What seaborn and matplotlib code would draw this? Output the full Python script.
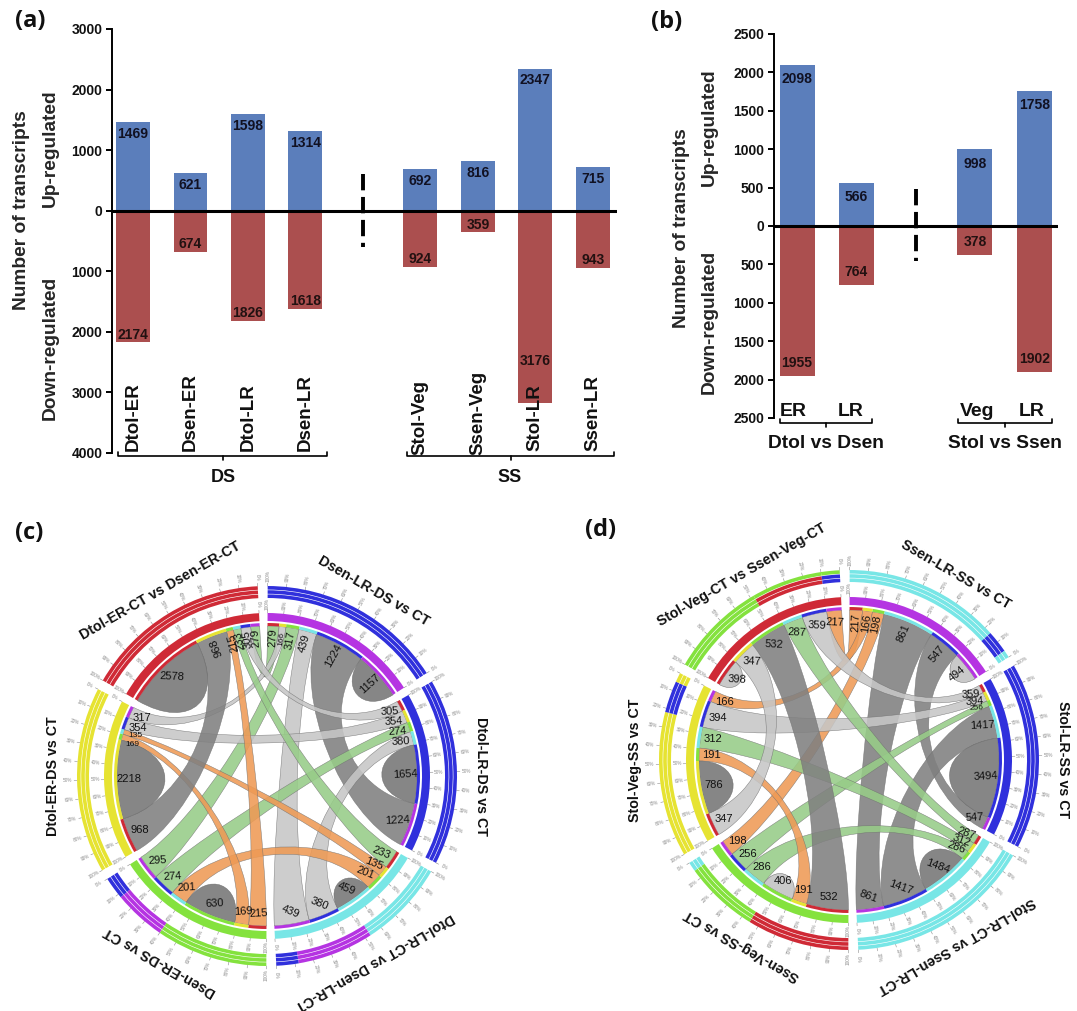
import numpy as np
import pandas as pd
import seaborn as sns
import matplotlib
matplotlib.use("Agg")
import matplotlib.pyplot as plt
from matplotlib.patches import PathPatch, Wedge
from matplotlib.path import Path

# bars, panel (a)
A_GROUPS = ["Dtol-ER", "Dsen-ER", "Dtol-LR", "Dsen-LR", "", "Stol-Veg", "Ssen-Veg", "Stol-LR", "Ssen-LR"]
A_UP = [1469, 621, 1598, 1314, None, 692, 816, 2347, 715]
A_DOWN = [2174, 674, 1826, 1618, None, 924, 359, 3176, 943]
A_TICKS = [3000, 2000, 1000, 0, -1000, -2000, -3000, -4000]

# bars, panel (b)
B_GROUPS = ["ER", "LR ", "", "Veg", "LR"]
B_UP = [2098, 566, None, 998, 1758]
B_DOWN = [1955, 764, None, 378, 1902]
B_TICKS = [2500, 2000, 1500, 1000, 500, 0, -500, -1000, -1500, -2000, -2500]

# chord diagrams: sectors run clockwise from the top gap,
# segment k of every sector links to sector 5-k
C_NAMES = ["Dsen-LR-DS vs CT", "Dtol-LR-DS vs CT", "Dtol-LR-CT vs Dsen-LR-CT",
           "Dsen-ER-DS vs CT", "Dtol-ER-DS vs CT", "Dtol-ER-CT vs Dsen-ER-CT"]
C_VALUES = [[279, 166, 317, 439, 1224, 1157],
            [305, 354, 274, 380, 1654, 1224],
            [233, 135, 201, 459, 380, 439],
            [215, 169, 630, 201, 274, 295],
            [968, 2218, 169, 135, 354, 317],
            [2578, 968, 215, 233, 305, 279]]
C_SECTOR_COLORS = ["magenta", "blue", "cyan", "green", "yellow", "red"]
C_TRACKS = [[("blue", 1)], [("blue", 1)],
            [("cyan", .47), ("magenta", .88), ("blue", 1)],
            [("green", .60), ("magenta", .88), ("blue", 1)],
            [("yellow", 1)], [("red", 1)]]
C_BINS = [220, 300, 450]

D_NAMES = ["Ssen-LR-SS vs CT", "Stol-LR-SS vs CT", "Stol-LR-CT vs Ssen-LR-CT",
           "Ssen-Veg-SS vs CT", "Stol-Veg-SS vs CT", "Stol-Veg-CT vs Ssen-Veg-CT"]
D_VALUES = [[217, 166, 198, 861, 547, 494],
            [359, 394, 256, 1417, 3494, 547],
            [287, 312, 286, 1484, 1417, 861],
            [532, 191, 406, 286, 256, 198],
            [347, 786, 191, 312, 394, 166],
            [398, 347, 532, 287, 359, 217]]
D_SECTOR_COLORS = ["magenta", "blue", "cyan", "green", "yellow", "red"]
D_TRACKS = [[("cyan", .84), ("blue", .96), ("cyan", 1)], [("blue", 1)], [("cyan", 1)],
            [("red", .55), ("green", .95), ("cyan", 1)],
            [("yellow", .78), ("blue", .95), ("yellow", 1)],
            [("green", .52), ("red", .90), ("blue", 1)]]
D_BINS = [220, 320, 500]

W, H = 1077, 1011
BLUE_BAR = "#5B7EBB"
RED_BAR = "#AB4F4F"
PALETTE = {"red": "#CF2A36", "yellow": "#E6E332", "green": "#84E23E",
           "cyan": "#78E6E6", "blue": "#3030DC", "magenta": "#B534E2"}
RIBBONS = ["#EE9A55", "#97CC88", "#C6C6C6", "#808080"]

GAP = 3.0
TILT = 1.3
R_CHORD, R_BAND, R_MID_IN, R_MID_OUT = 150, 153, 155, 163
R_STRIPS = [(178, 181.6), (182.2, 185.8), (186.4, 190)]

sns.set_theme(style="white")
plt.rcParams["font.family"] = ["Liberation Sans", "DejaVu Sans"]


def px_axes(fig, left, top, right, bottom):
    return fig.add_axes([left / W, 1 - bottom / H, (right - left) / W, (bottom - top) / H])


def bar_panel(ax, groups, up, down, ticks, xlim, up_inset, down_inset, fs, moved=None):
    moved = moved or {}
    df = pd.DataFrame({
        "group": groups * 2,
        "count": [v for v in up] + [None if v is None else -v for v in down],
        "direction": ["up"] * len(groups) + ["down"] * len(groups),
    })
    sns.barplot(data=df, x="group", y="count", hue="direction", order=groups, dodge=False,
                palette={"up": BLUE_BAR, "down": RED_BAR}, width=0.59, saturation=1,
                linewidth=0, legend=False, ax=ax)
    ax.set_xlim(*xlim)
    ax.set_ylim(ticks[-1], ticks[0])
    ax.set_xticks([])
    ax.set_xlabel("")
    ax.set_ylabel("")
    ax.set_yticks(ticks)
    ax.set_yticklabels([str(abs(t)) for t in ticks], fontsize=fs, fontweight="bold")
    ax.tick_params(axis="y", left=True, length=4, width=1.4, pad=3, color="black", labelcolor="#111111")
    sns.despine(ax=ax, bottom=True)
    ax.spines["left"].set_linewidth(1.4)
    ax.spines["left"].set_color("black")
    ax.patch.set_alpha(0)
    ax.axhline(0, color="black", lw=2.2, zorder=5)
    for i, (u, d) in enumerate(zip(up, down)):
        if u is None:
            continue
        ax.text(i, u - up_inset, str(u), ha="center", va="center", fontsize=fs,
                fontweight="bold", color="#111122", zorder=6)
        ax.text(i, -moved.get(d, d - down_inset), str(d), ha="center", va="center", fontsize=fs,
                fontweight="bold", color="#221111", zorder=6)


def bracket(ov, x0, x1, y):
    ov.plot([x0, x0, x1, x1], [y - 4, y, y, y - 4], color="black", lw=1.2)
    ov.plot([(x0 + x1) / 2] * 2, [y, y + 4], color="black", lw=1.2)


def pol(r, deg):
    t = np.deg2rad(deg)
    return np.array([r * np.cos(t), r * np.sin(t)])


def arc(r, a0, a1):
    return [pol(r, a) for a in np.linspace(a0, a1, 24)]


def ribbon(ax, seg_a, seg_b, color, k=0.55):
    r = R_CHORD
    verts, codes = [], []
    pts = arc(r, *seg_a)
    verts += pts
    codes += [Path.MOVETO] + [Path.LINETO] * (len(pts) - 1)
    verts += [pol(r * k, seg_a[1]), pol(r * k, seg_b[0]), pol(r, seg_b[0])]
    codes += [Path.CURVE4] * 3
    pts = arc(r, *seg_b)[1:]
    verts += pts
    codes += [Path.LINETO] * len(pts)
    verts += [pol(r * k, seg_b[1]), pol(r * k, seg_a[0]), pol(r, seg_a[0])]
    codes += [Path.CURVE4] * 3
    ax.add_patch(PathPatch(Path(verts, codes), fc=color, ec="#707070", lw=0.35, alpha=0.88, zorder=2))


def self_ribbon(ax, seg, color):
    r = R_CHORD
    chord = np.linalg.norm(pol(r, seg[0]) - pol(r, seg[1]))
    depth = 0.75 * chord
    verts = arc(r, *seg)
    codes = [Path.MOVETO] + [Path.LINETO] * (len(verts) - 1)
    verts += [pol(r - depth, seg[1]), pol(r - depth, seg[0]), pol(r, seg[0])]
    codes += [Path.CURVE4] * 3
    ax.add_patch(PathPatch(Path(verts, codes), fc=color, ec="#6A6A6A", lw=0.35, alpha=0.95, zorder=2))


def wedge(ax, r0, r1, a0, a1, color, z=3):
    # a0 > a1, clockwise span
    ax.add_patch(Wedge((0, 0), r1, a1, a0, width=r1 - r0, fc=color, ec="none", lw=0, zorder=z))


def arc_len(seg):
    return np.deg2rad(seg[0] - seg[1]) * R_CHORD


def chord_panel(ax, names, values, sector_colors, tracks, bins, radial, tilted, outer_only=None):
    outer_only = outer_only or {}
    ax.set_xlim(-228, 228)
    ax.set_ylim(-228, 228)
    ax.axis("off")
    span = 60 - GAP
    starts = [90 + TILT - GAP / 2 - 60 * i for i in range(6)]
    segs = []
    for i, vals in enumerate(values):
        edges = np.cumsum([0] + vals) / sum(vals)
        segs.append([(starts[i] - edges[k] * span, starts[i] - edges[k + 1] * span) for k in range(6)])

    for i in range(6):
        for k in range(6):
            j = 5 - k
            if j < i:
                continue
            if j == i:
                self_ribbon(ax, segs[i][k], RIBBONS[-1] if values[i][k] > bins[2] else RIBBONS[2])
            else:
                # the link colour goes by the value at the later sector
                val = values[j][5 - i]
                ribbon(ax, segs[i][k], segs[j][5 - i], RIBBONS[int(np.searchsorted(bins, val))])

    for i in range(6):
        a0, a1 = starts[i], starts[i] - span
        wedge(ax, R_MID_IN, R_MID_OUT, a0, a1, PALETTE[sector_colors[i]])
        for k in range(6):
            partner = sector_colors[5 - k]
            wedge(ax, R_CHORD, R_BAND, segs[i][k][0], segs[i][k][1], PALETTE[partner])
            mid = sum(segs[i][k]) / 2
            fs = 8 if arc_len(segs[i][k]) >= 7 else 6
            # two very thin neighbours: slide the first one back along the arc
            if k < 5 and arc_len(segs[i][k]) < 6.5 and arc_len(segs[i][k + 1]) < 6.5:
                mid += 1.8
            x, y = pol(R_CHORD - 12, mid)
            rot = mid - 180 if mid > 90 else mid
            if i not in radial or (i == 5 and 5 - k == i):
                rot = tilted[i]
            ax.text(x, y, str(values[i][k]), fontsize=fs, ha="center", va="center",
                    rotation=rot, rotation_mode="anchor", color="#111111", zorder=6)
        for n, (lo, hi) in enumerate(R_STRIPS):
            prev = 0
            for name, end in tracks[i]:
                col = name
                if n == 2 and i in outer_only:
                    col = outer_only[i]
                wedge(ax, lo, hi, a0 - prev * span, a0 - end * span, PALETTE[col])
                prev = end
        # percent ticks on both tracks
        for pct in range(0, 101, 10):
            ang = a1 + pct / 100 * span
            for r0, r1, rt in [(R_MID_OUT, R_MID_OUT + 3, R_MID_OUT + 8.5), (190, 193, 199.5)]:
                p0, p1 = pol(r0, ang), pol(r1, ang)
                ax.plot([p0[0], p1[0]], [p0[1], p1[1]], color="#8A8A8A", lw=0.4, zorder=1)
                tx, ty = pol(rt, ang)
                tr = ang if -90 <= ((ang + 180) % 360 - 180) <= 90 else ang - 180
                ax.text(tx, ty, f"{pct}%", fontsize=3.4, color="#8E8E8E", ha="center", va="center",
                        rotation=tr, rotation_mode="anchor")
        mid = (a0 + a1) / 2 - TILT
        x, y = pol(214, mid)
        ax.text(x, y, names[i], fontsize=10.3, fontweight="bold", color="#111111", ha="center",
                va="center", rotation=mid - 90, rotation_mode="anchor")


fig = plt.figure(figsize=(W / 100, H / 100), dpi=100, facecolor="white")
ov = fig.add_axes([0, 0, 1, 1], zorder=10)
ov.set_xlim(0, W)
ov.set_ylim(H, 0)
ov.axis("off")
ov.patch.set_alpha(0)

# panel (a)
ax_a = px_axes(fig, 112, 29, 617, 453)
bar_panel(ax_a, A_GROUPS, A_UP, A_DOWN, A_TICKS, (-0.365, 8.42), 195, 130, 10, moved={3176: 2480})
ax_a.plot([4, 4], [600, -600], color="black", lw=2.8, ls=(0, (4.2, 1.7)), zorder=6)
for i, name in enumerate(A_GROUPS):
    ax_a.text(i, -4040 if "Veg" in name else -3960, name, rotation=90, ha="center", va="bottom",
              fontsize=13.5, fontweight="bold", color="#111111", zorder=7)
bracket(ov, 118, 327, 456)
bracket(ov, 407, 614, 456)
ov.text(223, 478, "DS", ha="center", va="center", fontsize=13, fontweight="bold", color="#111111")
ov.text(510, 478, "SS", ha="center", va="center", fontsize=13, fontweight="bold", color="#111111")
ov.text(22, 210, "Number of transcripts", rotation=90, ha="center", va="center", fontsize=13.8, fontweight="bold")
ov.text(50, 148, "Up-regulated", rotation=90, ha="center", va="center", fontsize=13.8, fontweight="bold")
ov.text(50, 348, "Down-regulated", rotation=90, ha="center", va="center", fontsize=13.8, fontweight="bold")

# panel (b)
ax_b = px_axes(fig, 774, 34, 1058, 418)
bar_panel(ax_b, B_GROUPS, B_UP, B_DOWN, B_TICKS, (-0.388, 4.40), 185, 165, 10)
ax_b.plot([2, 2], [480, -450], color="black", lw=2.8, ls=(0, (4.2, 1.7)), zorder=6)
for x, name in zip([793, 851, 977, 1032], ["ER", "LR", "Veg", "LR"]):
    ov.text(x, 411, name, ha="center", va="center", fontsize=14, fontweight="bold", color="#111111")
bracket(ov, 780, 872, 423)
bracket(ov, 958, 1052, 423)
ov.text(826, 443, "Dtol vs Dsen", ha="center", va="center", fontsize=13.8, fontweight="bold", color="#111111")
ov.text(1005, 443, "Stol vs Ssen", ha="center", va="center", fontsize=13.8, fontweight="bold", color="#111111")
ov.text(682, 228, "Number of transcripts", rotation=90, ha="center", va="center", fontsize=13.8, fontweight="bold")
ov.text(709, 127, "Up-regulated", rotation=90, ha="center", va="center", fontsize=13.8, fontweight="bold")
ov.text(709, 322, "Down-regulated", rotation=90, ha="center", va="center", fontsize=13.8, fontweight="bold")

# panel (c)
ax_c = px_axes(fig, 267 - 228, 776 - 228, 267 + 228, 776 + 228)
chord_panel(ax_c, C_NAMES, C_VALUES, C_SECTOR_COLORS, C_TRACKS, C_BINS,
            radial={0, 5}, tilted={1: 3, 2: -22, 3: 3, 4: 0, 5: -3})

# panel (d)
ax_d = px_axes(fig, 849 - 228, 760 - 228, 849 + 228, 760 + 228)
chord_panel(ax_d, D_NAMES, D_VALUES, D_SECTOR_COLORS, D_TRACKS, D_BINS,
            radial={0}, tilted={1: 3, 2: -20, 3: 0, 4: 0, 5: -3}, outer_only={5: "green"})

for x, y, s in [(30, 21, "(a)"), (667, 22, "(b)"), (29, 533, "(c)"), (601, 530, "(d)")]:
    ov.text(x, y, s, ha="center", va="center", fontsize=17, fontweight="bold",
            family=["Open Sans", "DejaVu Sans"], color="#111111")

fig.savefig("out.png", dpi=100)
